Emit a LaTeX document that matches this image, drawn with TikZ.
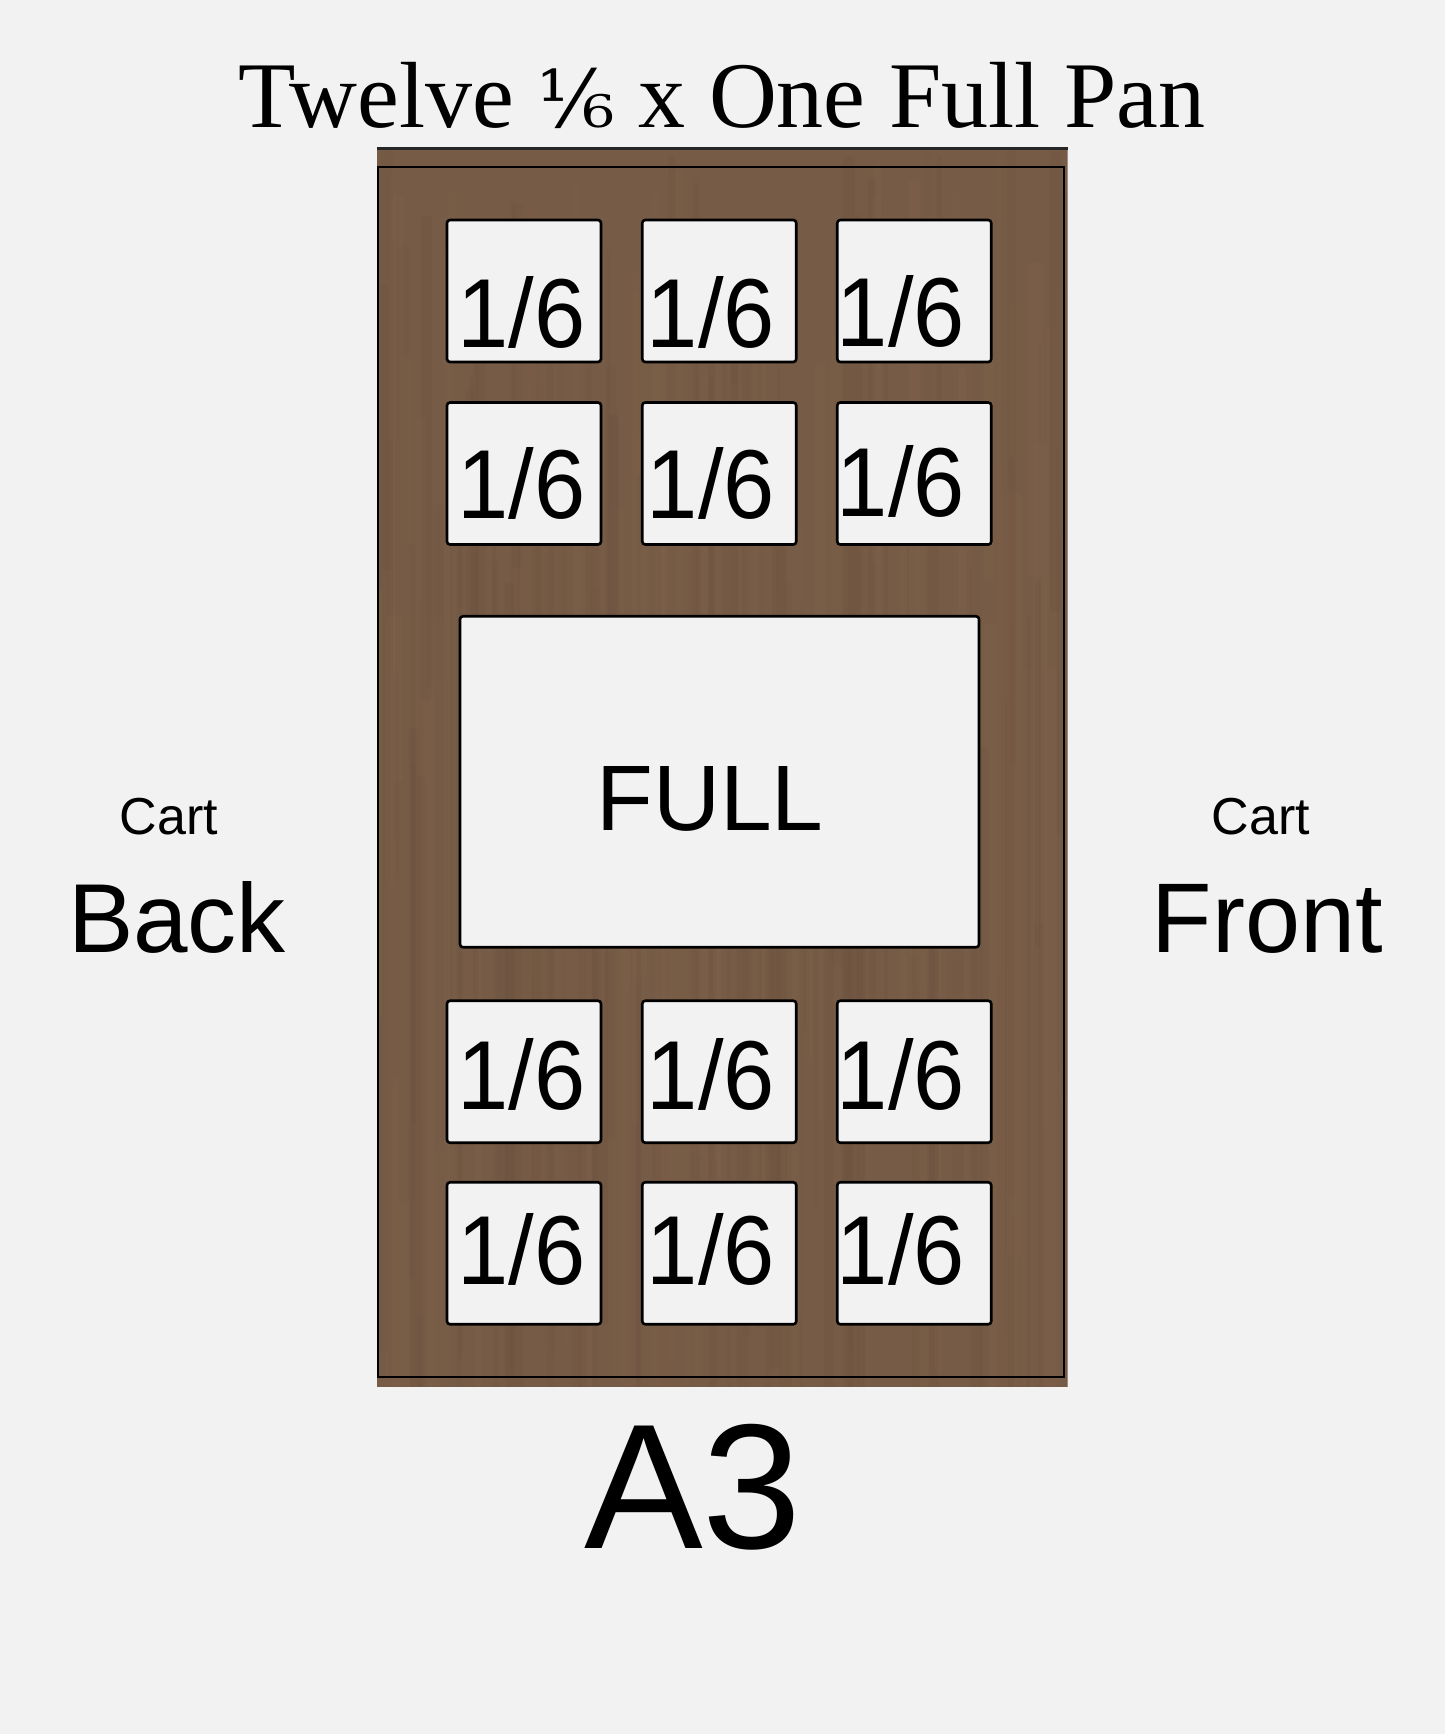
\documentclass[tikz,border=0pt]{standalone}
\usepackage{fontspec}
\setmainfont{Liberation Serif}
\newfontfamily\lsans{Liberation Sans}
\newfontfamily\djserif{DejaVu Serif}
\definecolor{bg}{HTML}{F2F2F2}
\definecolor{wood}{RGB}{118,91,70}
\definecolor{wooddark}{RGB}{90,68,52}
\definecolor{woodlight}{RGB}{145,114,88}
\newcommand{\sixlabel}{\scalebox{0.94}[1]{1/6}}
\tikzset{
  pan/.style={draw=black, line width=2.6pt, fill=bg, rounded corners=3pt, inner sep=0pt},
  sixth/.style={pan, minimum width=154pt, minimum height=142pt},
  fullpan/.style={pan, minimum width=519pt, minimum height=331pt},
  lbl/.style={inner sep=0pt, anchor=base, text=black},
  sixtxt/.style={lbl, font=\lsans\fontsize{98}{98}\selectfont},
  smalltxt/.style={lbl, font=\lsans\fontsize{52}{52}\selectfont},
  bigtxt/.style={lbl, font=\lsans\fontsize{98}{98}\selectfont},
  edge/.style={draw=black, line width=2pt}
}
\begin{document}
\begin{tikzpicture}[x=1pt,y=-1pt]
\useasboundingbox (0,0) rectangle (1445,1734);
\fill[bg] (0,0) rectangle (1445,1734);
% board with wood grain
\begin{scope}
\clip (377,147) rectangle (1067.5,1386.5);
\fill[wood] (377,147) rectangle (1067.5,1386.5);
\pgfmathsetseed{11}
\foreach \i in {1,...,120}{
  \pgfmathsetmacro\xx{377+690*rnd}
  \pgfmathsetmacro\ww{2+10*rnd}
  \pgfmathsetmacro\op{0.03+0.08*rnd}
  \pgfmathsetmacro\ya{147+700*rnd}
  \pgfmathsetmacro\yb{\ya+300+900*rnd}
  \fill[wooddark, opacity=\op, rounded corners=4pt] (\xx,\ya) rectangle ({\xx+\ww},\yb);
}
\foreach \i in {1,...,90}{
  \pgfmathsetmacro\xx{377+690*rnd}
  \pgfmathsetmacro\ww{3+14*rnd}
  \pgfmathsetmacro\op{0.03+0.09*rnd}
  \pgfmathsetmacro\ya{147+700*rnd}
  \pgfmathsetmacro\yb{\ya+300+900*rnd}
  \fill[woodlight, opacity=\op, rounded corners=4pt] (\xx,\ya) rectangle ({\xx+\ww},\yb);
}
\end{scope}
\coordinate (tl) at (377,148.5);
\coordinate (tr) at (1067.5,148.5);
\draw[draw=black!85, line width=3pt] (tl) -- (tr);
\coordinate (il) at (377.5,167);
\coordinate (ir) at (1063.5,1377);
\draw[edge] (il) rectangle (ir);
% title
\node[lbl, font=\fontsize{94}{94}\selectfont] (title) at (722,128)
  {Twelve {\djserif\fontsize{80}{80}\selectfont ⅙} x One Full Pan};
% sixth pans
\node[sixth] (b11) at (524,291) {};
\node[sixth] (b12) at (719.25,291) {};
\node[sixth] (b13) at (914.25,291) {};
\node[sixth] (b21) at (524,473.5) {};
\node[sixth] (b22) at (719.25,473.5) {};
\node[sixth] (b23) at (914.25,473.5) {};
\node[sixth] (b31) at (524,1071.75) {};
\node[sixth] (b32) at (719.25,1071.75) {};
\node[sixth] (b33) at (914.25,1071.75) {};
\node[sixth] (b41) at (524,1253.25) {};
\node[sixth] (b42) at (719.25,1253.25) {};
\node[sixth] (b43) at (914.25,1253.25) {};
\node[sixtxt] (t11) at (521.5,347) {\sixlabel};
\node[sixtxt] (t12) at (711,347) {\sixlabel};
\node[sixtxt] (t13) at (901,346) {\sixlabel};
\node[sixtxt] (t21) at (521.5,518) {\sixlabel};
\node[sixtxt] (t22) at (711,518) {\sixlabel};
\node[sixtxt] (t23) at (901,516) {\sixlabel};
\node[sixtxt] (t31) at (521.5,1109) {\sixlabel};
\node[sixtxt] (t32) at (711,1109) {\sixlabel};
\node[sixtxt] (t33) at (901,1109) {\sixlabel};
\node[sixtxt] (t41) at (521.5,1284) {\sixlabel};
\node[sixtxt] (t42) at (711,1284) {\sixlabel};
\node[sixtxt] (t43) at (901,1284) {\sixlabel};
% full pan
\node[fullpan] (full) at (719.5,781.75) {};
\node[lbl, font=\lsans\fontsize{93}{93}\selectfont] (fulltxt) at (710,830) {FULL};
% side labels
\node[smalltxt] (cartL) at (169,834) {Cart};
\node[bigtxt] (back) at (177,952.5) {Back};
\node[smalltxt] (cartR) at (1261,834) {Cart};
\node[lbl, font=\lsans\fontsize{99}{99}\selectfont] (front) at (1267.5,952.5) {Front};
% bottom label
\node[lbl, font=\lsans\fontsize{178}{178}\selectfont] (a3) at (693,1548) {A3};
\end{tikzpicture}
\end{document}
